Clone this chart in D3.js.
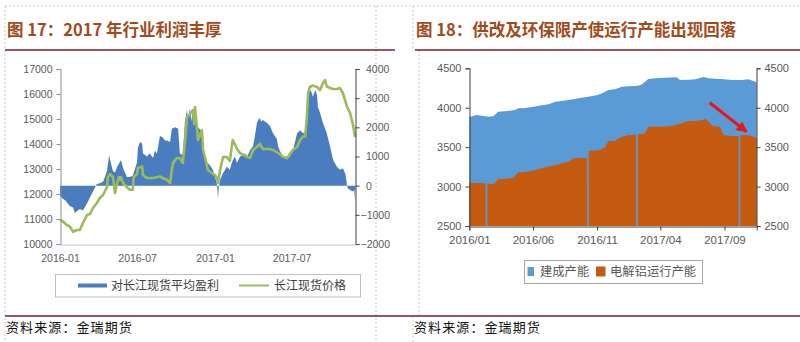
<!DOCTYPE html>
<html>
<head>
<meta charset="utf-8">
<script src="https://cdn.jsdelivr.net/npm/d3@7/dist/d3.min.js"></script>
<style>
  html, body { margin: 0; padding: 0; background: #fff; }
  svg { display: block; }
  text { font-family: "Liberation Sans", Arial, sans-serif; }
  .cjk { font-family: "Noto Sans CJK SC", "Noto Sans", sans-serif; }
</style>
</head>
<body>
<svg id="page" width="800" height="342"></svg>
<script>
// ---------- 图17：长江现货盈利与价格 ----------
const profitDates = [
  "2016-01-01","2016-01-08","2016-01-13","2016-01-24","2016-02-01","2016-02-05","2016-02-12","2016-02-17",
  "2016-02-24","2016-03-05","2016-03-12","2016-03-19","2016-03-24","2016-03-28","2016-04-04","2016-04-12",
  "2016-04-16","2016-04-21","2016-04-26","2016-04-28","2016-05-05","2016-05-10","2016-05-15","2016-05-24",
  "2016-05-29","2016-06-07","2016-06-14","2016-06-21","2016-07-01","2016-07-03","2016-07-08","2016-07-13",
  "2016-07-15","2016-07-20","2016-07-24","2016-07-31","2016-08-08","2016-08-12","2016-08-17","2016-08-24",
  "2016-08-31","2016-09-05","2016-09-10","2016-09-17","2016-09-21","2016-09-29","2016-10-06","2016-10-10",
  "2016-10-17","2016-10-22","2016-10-27","2016-10-29","2016-11-03","2016-11-06","2016-11-10","2016-11-15",
  "2016-11-22","2016-12-01","2016-12-04","2016-12-08","2016-12-13","2016-12-20","2016-12-27","2017-01-01",
  "2017-01-06","2017-01-08","2017-01-10","2017-01-13","2017-01-20","2017-01-29","2017-02-05","2017-02-10",
  "2017-02-17","2017-02-22","2017-03-01","2017-03-13","2017-03-18","2017-03-25","2017-04-01","2017-04-05",
  "2017-04-10","2017-04-13","2017-04-17","2017-04-20","2017-04-24","2017-05-04","2017-05-11","2017-05-18",
  "2017-05-27","2017-05-30","2017-06-03","2017-06-11","2017-06-20","2017-06-27","2017-07-04","2017-07-14",
  "2017-07-21","2017-07-28","2017-08-02","2017-08-06","2017-08-09","2017-08-13","2017-08-17","2017-08-20",
  "2017-08-26","2017-08-30","2017-09-01","2017-09-06","2017-09-13","2017-09-22","2017-09-30","2017-10-07",
  "2017-10-16","2017-10-23","2017-10-30","2017-11-05","2017-11-09","2017-11-11","2017-11-16","2017-11-23",
  "2017-11-26","2017-11-28"
];
const profitValues = [
  -350,-450,-500,-700,-750,-940,-850,-800,
  -850,-600,-400,-200,-50,60,80,140,
  300,500,1050,900,500,450,650,880,
  600,300,300,350,800,1300,1500,1450,
  1100,1050,1000,1100,950,1200,1100,1700,
  1650,1550,1550,1500,1950,2000,1950,1100,
  1050,2200,2600,2300,2650,2200,2600,2500,
  2000,1850,1300,1000,800,700,550,300,
  50,-450,-50,200,430,650,550,800,
  1000,780,1000,1100,1000,1220,1350,1680,
  2150,2250,2320,2200,2250,2150,2050,1800,
  1600,1340,1200,990,900,1000,1200,1800,
  1900,1800,1850,2360,3150,3280,3200,3050,
  3280,3100,2700,2500,2150,1800,1330,880,
  650,550,600,400,0,-100,-150,-200,
  -150,-560
];
const priceDates = [
  "2016-01-01","2016-01-08","2016-01-17","2016-01-24","2016-02-01","2016-02-10","2016-02-17","2016-02-24",
  "2016-03-05","2016-03-12","2016-03-19","2016-03-28","2016-04-04","2016-04-12","2016-04-21","2016-04-23",
  "2016-04-28","2016-05-05","2016-05-10","2016-05-15","2016-05-19","2016-05-22","2016-05-24","2016-05-29",
  "2016-06-07","2016-06-14","2016-06-21","2016-06-23","2016-07-01","2016-07-03","2016-07-13","2016-07-15",
  "2016-07-24","2016-08-08","2016-08-24","2016-08-31","2016-09-10","2016-09-17","2016-09-21","2016-09-24",
  "2016-10-03","2016-10-10","2016-10-17","2016-10-22","2016-10-27","2016-11-01","2016-11-10","2016-11-13",
  "2016-11-15","2016-11-22","2016-12-01","2016-12-04","2016-12-13","2016-12-15","2016-12-25","2017-01-01",
  "2017-01-06","2017-01-08","2017-01-13","2017-01-20","2017-01-29","2017-02-05","2017-02-12","2017-02-17",
  "2017-02-22","2017-03-01","2017-03-18","2017-03-25","2017-04-01","2017-04-10","2017-04-17","2017-04-24",
  "2017-05-11","2017-05-18","2017-06-03","2017-06-11","2017-06-20","2017-06-27","2017-07-04","2017-07-14",
  "2017-07-21","2017-07-28","2017-08-02","2017-08-06","2017-08-09","2017-08-13","2017-08-20","2017-08-30",
  "2017-09-06","2017-09-13","2017-09-18","2017-09-22","2017-09-30","2017-10-07","2017-10-16","2017-10-23",
  "2017-10-30","2017-11-09","2017-11-16","2017-11-23","2017-11-28"
];
const priceValues = [
  10960,10900,10760,10700,10490,10560,10560,10840,
  11160,11200,11440,11640,11840,11970,12280,12680,
  12800,12680,12040,12440,12680,12560,12680,12440,
  12280,12170,12170,12680,12800,13040,13100,12760,
  12640,12640,12700,12640,12560,12440,12960,13240,
  13440,13440,13240,14080,15080,15150,15360,14800,
  15480,14160,14560,13760,13160,12960,12840,12750,
  12640,12440,12960,13480,13480,13320,14160,14000,
  13800,13640,13480,13440,13760,13880,14000,13800,
  13800,13760,13600,13480,13440,13600,13760,13880,
  14160,14300,14300,15080,16040,16280,16340,16280,
  16160,16440,16560,16300,16240,16200,16200,16240,
  16040,15480,15240,14760,14280
];
const priceTicks  = [10000, 11000, 12000, 13000, 14000, 15000, 16000, 17000];
const profitTicks = [-2000, -1000, 0, 1000, 2000, 3000, 4000];
const leftDateTicks = ["2016-01-01", "2016-07-01", "2017-01-01", "2017-07-01"];
const leftDomain = ["2016-01-01", "2017-11-30"];
const leftLegend = ["对长江现货平均盈利", "长江现货价格"];

// ---------- 图18：建成产能与运行产能 ----------
const builtDates = [
  "2016-01-01","2016-01-11","2016-01-19","2016-02-03","2016-02-15","2016-02-27","2016-03-02","2016-03-10",
  "2016-03-26","2016-04-19","2016-04-27","2016-05-13","2016-06-02","2016-06-22","2016-07-08","2016-07-24",
  "2016-08-09","2016-08-24","2016-09-09","2016-09-25","2016-10-11","2016-11-02","2016-11-12","2016-11-28",
  "2016-12-14","2016-12-30","2017-01-15","2017-01-31","2017-02-12","2017-02-24","2017-03-03","2017-03-19",
  "2017-04-12","2017-05-10","2017-05-18","2017-06-07","2017-06-23","2017-07-13","2017-07-25","2017-08-10",
  "2017-08-26","2017-09-19","2017-10-13","2017-10-28","2017-11-09","2017-11-17"
];
const builtValues = [
  3878,3899,3907,3895,3887,3893,3910,3949,
  3955,3971,3992,3998,4013,4030,4043,4076,
  4085,4098,4110,4127,4140,4161,4180,4225,
  4235,4267,4272,4276,4285,4330,4364,4373,
  4380,4385,4351,4355,4360,4389,4375,4368,
  4364,4351,4351,4360,4339,4322
];
// null marks a week without a running-capacity reading
const runDates = [
  "2016-01-01","2016-02-09","2016-02-11","2016-02-13","2016-02-23","2016-02-29","2016-03-06","2016-03-10",
  "2016-03-26","2016-04-11","2016-04-19","2016-04-27","2016-05-13","2016-06-06","2016-06-18","2016-07-04",
  "2016-07-24","2016-08-09","2016-08-28","2016-09-05","2016-10-08","2016-10-10","2016-10-12","2016-11-04",
  "2016-11-12","2016-11-20","2016-11-28","2016-12-14","2016-12-30","2017-01-15","2017-02-02","2017-02-04",
  "2017-02-06","2017-02-24","2017-03-03","2017-04-04","2017-04-28","2017-05-22","2017-06-07","2017-06-23",
  "2017-07-09","2017-07-17","2017-07-25","2017-08-02","2017-08-22","2017-08-30","2017-09-19","2017-10-05",
  "2017-10-07","2017-10-09","2017-10-21","2017-11-02","2017-11-17"
];
const runValues = [
  3049,3041,null,3040,3029,3035,3070,3096,
  3100,3105,3130,3181,3185,3206,3225,3252,
  3270,3295,3320,3358,3366,null,3455,3460,
  3475,3495,3578,3582,3633,3654,3654,null,
  3659,3675,3759,3759,3767,3802,3831,3831,
  3840,3857,3830,3772,3755,3654,3641,3641,
  null,3650,3654,3648,3612
];
const capTicks = [2500, 3000, 3500, 4000, 4500];
const rightDateTicks = ["2016-01-01", "2016-06-01", "2016-11-01", "2017-04-01", "2017-09-01"];
const rightDomain = ["2016-01-01", "2017-11-17"];
const rightLegend = ["建成产能", "电解铝运行产能"];
const arrowFrom = { date: "2017-07-28", value: 4063 };
const arrowTo   = { date: "2017-10-24", value: 3696 };

// ---------- drawing ----------
const parse = d3.timeParse("%Y-%m-%d");
const svg = d3.select("#page");
const GRID = "#c8c8c8";
const RULE = "#7a1c2b";
const TITLE = "#a24a1c";
const AXIS_TXT = "#595959";
const intFmt = d3.format("d");

// page frame: dashed cell borders and title rules
const dashed = [
  [5, 6, 800, 6], [5, 6, 5, 342], [376, 6, 376, 342],
  [413, 6, 413, 50], [419, 50, 419, 316], [413, 316, 413, 342]
];
svg.append("g").selectAll("line").data(dashed).join("line")
  .attr("x1", d => d[0]).attr("y1", d => d[1]).attr("x2", d => d[2]).attr("y2", d => d[3])
  .attr("stroke", GRID).attr("stroke-width", 1).attr("stroke-dasharray", "2,2");

const rules = [[5, 50, 395, 50], [415, 50, 800, 50], [5, 316, 800, 316]];
svg.append("g").selectAll("line").data(rules).join("line")
  .attr("x1", d => d[0]).attr("y1", d => d[1]).attr("x2", d => d[2]).attr("y2", d => d[3])
  .attr("stroke", RULE).attr("stroke-width", 1.5);

svg.append("text").attr("class", "cjk").attr("x", 7).attr("y", 36)
  .attr("font-size", 16.5).attr("font-weight", 700).attr("fill", TITLE)
  .text("图 17：2017 年行业利润丰厚");
svg.append("text").attr("class", "cjk").attr("x", 416).attr("y", 36)
  .attr("font-size", 16.5).attr("font-weight", 700).attr("fill", TITLE)
  .text("图 18：供改及环保限产使运行产能出现回落");

[6, 414].forEach(x => {
  svg.append("text").attr("class", "cjk").attr("x", x).attr("y", 331.5)
    .attr("font-size", 13).attr("letter-spacing", 1.1).attr("fill", "#111")
    .text("资料来源：金瑞期货");
});

// ===== 图17 =====
{
  const x = d3.scaleTime().domain(leftDomain.map(parse)).range([60, 356]);
  const yL = d3.scaleLinear().domain([10000, 17000]).range([244, 69]);
  const yR = d3.scaleLinear().domain([-2000, 4000]).range([244, 69]);
  const g = svg.append("g");

  const profit = profitDates.map((d, i) => ({ date: parse(d), v: profitValues[i] }));
  const price = priceDates.map((d, i) => ({ date: parse(d), v: priceValues[i] }));

  g.append("path").datum(profit)
    .attr("fill", "#4a7dc0")
    .attr("d", d3.area().x(d => x(d.date)).y0(yR(0)).y1(d => yR(d.v)));

  g.append("path").datum(price)
    .attr("fill", "none").attr("stroke", "#9bbb59").attr("stroke-width", 2.6)
    .attr("stroke-linejoin", "round")
    .attr("d", d3.line().x(d => x(d.date)).y(d => yL(d.v)));

  // left axis (price)
  const ax = g.append("g").attr("transform", "translate(60.5,0)")
    .call(d3.axisLeft(yL).tickValues(priceTicks).tickSize(4).tickPadding(4).tickFormat(intFmt));
  ax.select(".domain").attr("stroke", "#8c8c8c");
  ax.selectAll(".tick line").attr("stroke", "#8c8c8c");
  ax.selectAll("text").attr("font-size", 10.5).attr("fill", AXIS_TXT)
    .attr("font-family", "Liberation Sans, Arial, sans-serif");

  // right axis (profit): digits line up, the minus sign hangs to the left
  const ar = g.append("g").attr("transform", "translate(355.5,0)")
    .call(d3.axisRight(yR).tickValues(profitTicks).tickSize(4).tickPadding(6)
      .tickFormat(d => d < 0 ? "\u2212" + Math.abs(d) : String(d)));
  ar.select(".domain").attr("stroke", "#404040");
  ar.selectAll(".tick line").attr("stroke", "#404040");
  ar.selectAll("text").attr("font-size", 10.5).attr("fill", AXIS_TXT)
    .attr("font-family", "Liberation Sans, Arial, sans-serif")
    .attr("x", d => d < 0 ? 5 : 10.5);

  // bottom axis (dates)
  const ab = g.append("g").attr("transform", "translate(0,244.5)")
    .call(d3.axisBottom(x).tickValues(leftDateTicks.map(parse)).tickSize(0).tickPadding(10)
      .tickFormat(d3.timeFormat("%Y-%m")));
  ab.select(".domain").attr("stroke", "#bfbfbf");
  ab.selectAll("text").attr("font-size", 10.5).attr("fill", AXIS_TXT)
    .attr("font-family", "Liberation Sans, Arial, sans-serif");

  // legend
  const lg = g.append("g");
  lg.append("rect").attr("x", 55.5).attr("y", 274.5).attr("width", 305).attr("height", 22.5)
    .attr("fill", "none").attr("stroke", "#bfbfbf");
  lg.append("rect").attr("x", 78).attr("y", 283.5).attr("width", 29).attr("height", 4).attr("fill", "#4a7dc0");
  lg.append("text").attr("class", "cjk").attr("x", 111).attr("y", 290)
    .attr("font-size", 12).attr("fill", "#404040").text(leftLegend[0]);
  lg.append("line").attr("x1", 239).attr("x2", 269).attr("y1", 285.5).attr("y2", 285.5)
    .attr("stroke", "#9bbb59").attr("stroke-width", 2);
  lg.append("text").attr("class", "cjk").attr("x", 274).attr("y", 290)
    .attr("font-size", 12).attr("fill", "#404040").text(leftLegend[1]);
}

// ===== 图18 =====
{
  const x = d3.scaleTime().domain(rightDomain.map(parse)).range([469.3, 756.7]);
  const y = d3.scaleLinear().domain([2500, 4500]).range([226, 68.3]);
  const g = svg.append("g");

  const built = builtDates.map((d, i) => ({ date: parse(d), v: builtValues[i] }));
  const run = runDates.map((d, i) => ({ date: parse(d), v: runValues[i] }));

  g.append("path").datum(built).attr("fill", "#5b9bd5")
    .attr("d", d3.area().x(d => x(d.date)).y0(y(2500)).y1(d => y(d.v)));
  g.append("path").datum(run).attr("fill", "#c55a11")
    .attr("d", d3.area().defined(d => d.v != null).x(d => x(d.date)).y0(y(2500)).y1(d => y(d.v)));

  const styleAxis = (a, size) => {
    a.select(".domain").attr("stroke", "#404040");
    a.selectAll(".tick line").attr("stroke", "#404040");
    a.selectAll("text").attr("font-size", size).attr("fill", AXIS_TXT)
      .attr("font-family", "Liberation Sans, Arial, sans-serif");
  };
  styleAxis(g.append("g").attr("transform", "translate(469.5,0)")
    .call(d3.axisLeft(y).tickValues(capTicks).tickSize(4).tickPadding(4).tickFormat(intFmt)), 11);
  styleAxis(g.append("g").attr("transform", "translate(756.5,0)")
    .call(d3.axisRight(y).tickValues(capTicks).tickSize(4).tickPadding(4).tickFormat(intFmt)), 11);
  styleAxis(g.append("g").attr("transform", "translate(0,226.5)")
    .call(d3.axisBottom(x).tickValues(rightDateTicks.map(parse)).tickSize(4).tickPadding(5)
      .tickFormat(d3.timeFormat("%Y/%m"))), 11.5);

  // annotation arrow: running capacity turning down
  const defs = svg.append("defs");
  defs.append("marker").attr("id", "redHead").attr("viewBox", "0 0 10 10")
    .attr("refX", 9).attr("refY", 5).attr("markerWidth", 4).attr("markerHeight", 3.6)
    .attr("orient", "auto").attr("markerUnits", "strokeWidth")
    .append("path").attr("d", "M0,0 L10,5 L0,10 Z").attr("fill", "#e8151b");
  g.append("line")
    .attr("x1", x(parse(arrowFrom.date))).attr("y1", y(arrowFrom.value))
    .attr("x2", x(parse(arrowTo.date))).attr("y2", y(arrowTo.value))
    .attr("stroke", "#e8151b").attr("stroke-width", 3).attr("marker-end", "url(#redHead)");

  // legend
  const lg = g.append("g");
  lg.append("rect").attr("x", 524.5).attr("y", 260.5).attr("width", 178).attr("height", 23)
    .attr("fill", "none").attr("stroke", "#a6a6a6");
  lg.append("rect").attr("x", 527.5).attr("y", 267).attr("width", 6.5).attr("height", 9).attr("fill", "#5b9bd5");
  lg.append("text").attr("class", "cjk").attr("x", 540).attr("y", 276)
    .attr("font-size", 12.3).attr("fill", AXIS_TXT).text(rightLegend[0]);
  lg.append("rect").attr("x", 596).attr("y", 266.5).attr("width", 9.5).attr("height", 10).attr("fill", "#c55a11");
  lg.append("text").attr("class", "cjk").attr("x", 610).attr("y", 276)
    .attr("font-size", 12.3).attr("fill", AXIS_TXT).text(rightLegend[1]);
}
</script>
</body>
</html>
